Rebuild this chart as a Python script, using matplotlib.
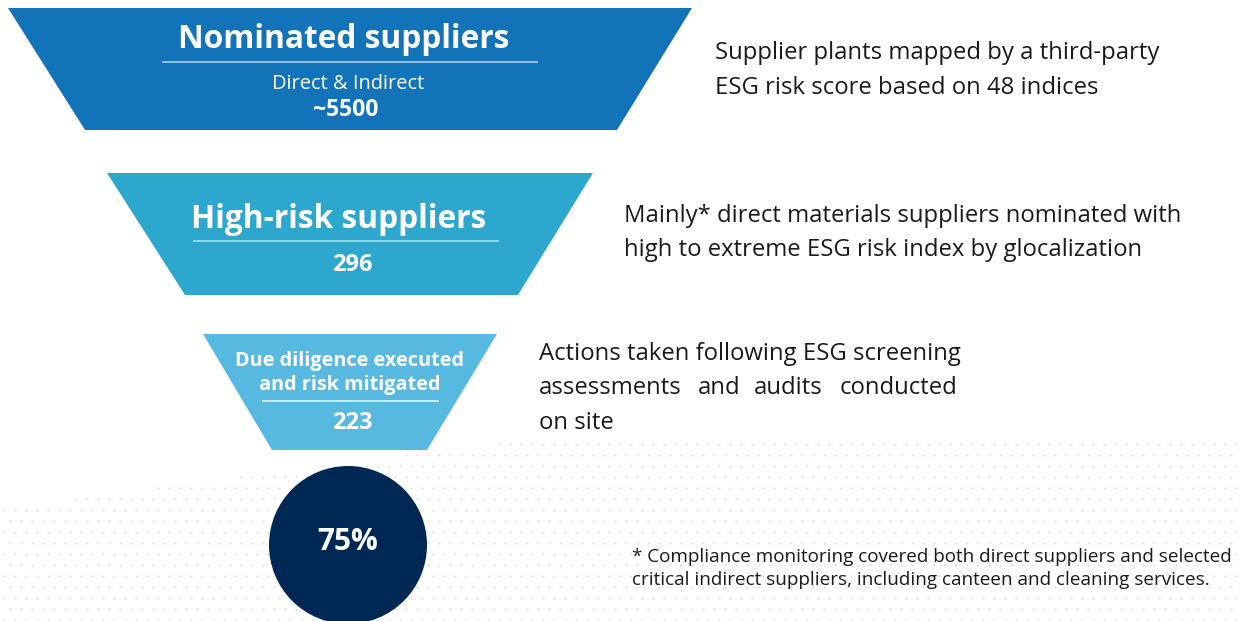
import matplotlib.pyplot as plt
from matplotlib.patches import Polygon, Circle
import numpy as np

plt.rcParams["font.family"] = ["Open Sans", "DejaVu Sans"]

# funnel stages
stage_titles = ["Nominated suppliers", "High-risk suppliers",
                "Due diligence executed\nand risk mitigated"]
stage_subtitles = ["Direct & Indirect", "", ""]
stage_values = ["~5500", "296", "223"]
stage_colors = ["#1373b8", "#2ea7cf", "#58b9e0"]
final_share = "75%"

descriptions = [
    ["Supplier plants mapped by a third-party",
     "ESG risk score based on 48 indices"],
    ["Mainly* direct materials suppliers nominated with",
     "high to extreme ESG risk index by glocalization"],
    ["Actions taken following ESG screening",
     "assessments and audits conducted",
     "on site"],
]
footnote = ["* Compliance monitoring covered both direct suppliers and selected",
            "critical indirect suppliers, including canteen and cleaning services."]

W, H = 1240, 621
fig = plt.figure(figsize=(W / 100, H / 100), dpi=100)
ax = fig.add_axes([0, 0, 1, 1])
ax.set_xlim(0, W)
ax.set_ylim(H, 0)
ax.axis("off")

# faint dotted wave in the background
gx, gy = np.meshgrid(np.arange(4, W, 11), np.arange(400, H, 11))
gx = gx + (gy // 11 % 2) * 5.5
edge = 440 + np.clip(520 - gx, 0, None) * 0.13
mask = gy > edge
ax.scatter(gx[mask], gy[mask], s=2.0, color="#dadada", lw=0, zorder=0)

# trapezoid geometry (top_y, bot_y, top_l, top_r, bot_l, bot_r)
geom = [
    (8, 130, 8, 692, 85, 617),
    (173, 295, 107, 593, 185, 518),
    (334, 450, 203, 497, 272, 427),
]

for i, (t, b, tl, tr, bl, br) in enumerate(geom):
    ax.add_patch(Polygon([(tl, t), (tr, t), (br, b), (bl, b)],
                         closed=True, color=stage_colors[i], lw=0, zorder=2))

white = dict(color="white", ha="center", va="center", zorder=3)

# stage 1
ax.text(344, 39, stage_titles[0], fontsize=22.8, fontweight="bold", **white)
ax.plot([163, 537], [62, 62], color="#a9cfe9", lw=1.2, zorder=3)
ax.text(348, 84, stage_subtitles[0], fontsize=14.4, **white)
ax.text(346, 110, stage_values[0], fontsize=16.5, fontweight="bold", **white)

# stage 2
ax.text(339, 219, stage_titles[1], fontsize=22.8, fontweight="bold", **white)
ax.plot([194, 498], [241, 241], color="#a8dcef", lw=1.2, zorder=3)
ax.text(352, 265, stage_values[1], fontsize=17, fontweight="bold", **white)

# stage 3
ax.text(350, 373, stage_titles[2], fontsize=14.3, fontweight="bold",
        linespacing=1.28, **white)
ax.plot([263, 438], [401, 401], color="#e3f3fa", lw=1.2, zorder=3)
ax.text(352, 423, stage_values[2], fontsize=17, fontweight="bold", **white)

# final circle
ax.add_patch(Circle((348, 545), 79, color="#002855", lw=0, zorder=2))
ax.text(348, 542, final_share, fontsize=21.5, fontweight="bold", **white)

# descriptions
desc_pos = [(715, 53), (624, 216), (539, 354)]
txt = dict(color="#1a1a1a", fontsize=17.2, ha="left", va="center", zorder=3)
for k, ((x, y), lines) in enumerate(zip(desc_pos, descriptions)):
    for j, line in enumerate(lines):
        yy = y + j * 34.5
        if k == 2 and j == 1:
            # justified line: spread the words to the right edge
            for word, wx in zip(line.split(), [539, 698, 754, 840]):
                ax.text(wx, yy, word, **txt)
        else:
            ax.text(x, yy, line, **txt)

for j, line in enumerate(footnote):
    ax.text(632, 557 + j * 23, line, color="#1a1a1a", fontsize=13.6,
            ha="left", va="center", zorder=3)

fig.savefig("out.png", dpi=100)
